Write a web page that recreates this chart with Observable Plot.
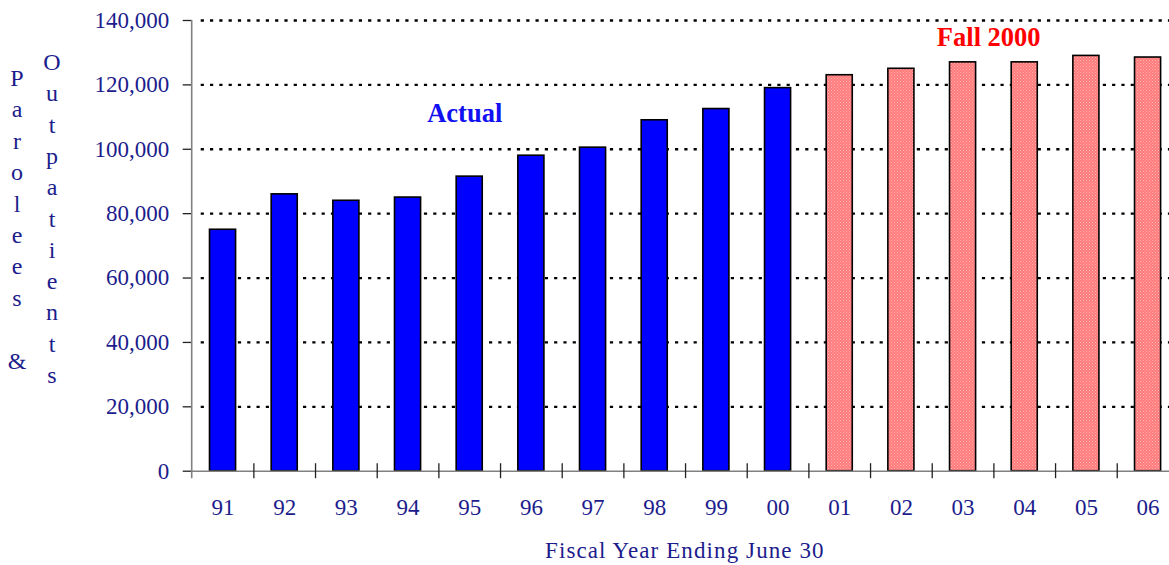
<!DOCTYPE html>
<html>
<head>
<meta charset="utf-8">
<script src="https://cdn.jsdelivr.net/npm/d3@7"></script>
<script src="https://cdn.jsdelivr.net/npm/@observablehq/plot@0.6"></script>
<style>
  html, body { margin: 0; padding: 0; background: #fff; }
  #chart { position: relative; width: 1169px; height: 565px; overflow: hidden; }
  .vlabel { position: absolute; top: 0; font-family: "Liberation Serif", "Times New Roman", serif; font-size: 24px; color: #1c1c8c; }
  .vlabel span { position: absolute; left: 0; transform: translate(-50%, -50%); }
</style>
</head>
<body>
<div id="chart"></div>
<script>
const years = ["91","92","93","94","95","96","97","98","99","00","01","02","03","04","05","06"];
const values = [75000, 86000, 84000, 85000, 91500, 98000, 100500, 109000, 112500, 119000, 123000, 125000, 127000, 127000, 129000, 128500];
const kinds = ["Actual","Actual","Actual","Actual","Actual","Actual","Actual","Actual","Actual","Actual","Fall 2000","Fall 2000","Fall 2000","Fall 2000","Fall 2000","Fall 2000"];
const yTicks = [0, 20000, 40000, 60000, 80000, 100000, 120000, 140000];
const gridTicks = [20000, 40000, 60000, 80000, 100000, 120000, 140000];
const xTitle = "Fiscal Year Ending June 30";
const yTitle1 = "Parolees &";
const yTitle2 = "Outpatients";
const noteActual = {text: "Actual", x: "95", y: 111000};
const noteFall = {text: "Fall 2000", x: "04", y: 134700};

const data = years.map((y, i) => ({year: y, value: values[i], kind: kinds[i]}));

const X0 = 191.7, X1 = 1178.4;
const step = (X1 - X0) / years.length;
const font = '"Liberation Serif", "Times New Roman", serif';
const navy = "#1c1c8c";

const plot = Plot.plot({
  width: 1169,
  height: 565,
  marginLeft: X0,
  marginRight: 0,
  marginTop: 20,
  marginBottom: 94.3,
  style: {fontFamily: font, background: "#fff"},
  x: {domain: years, range: [X0, X1], padding: 0, round: false},
  y: {domain: [0, 140000]},
  marks: [
    Plot.ruleY(gridTicks, {stroke: "#000", strokeWidth: 2.3, strokeDasharray: "3.2,6.1", insetLeft: 9}),
    Plot.barY(data, {
      x: "year", y: "value",
      fill: d => d.kind === "Actual" ? "#0000ff" : "url(#pinkpat)",
      stroke: "#000", strokeWidth: 1.6,
      insetLeft: 17.8, insetRight: 17.8
    }),
    Plot.ruleY([0], {stroke: "#808080", strokeWidth: 1.6}),
    Plot.ruleX(years.slice(1), {x: d => d, y1: 0, y2: 0, insetTop: -7.5, insetBottom: -7.5, dx: -step / 2, stroke: "#222", strokeWidth: 1.3}),
    Plot.axisY({ticks: yTicks, tickFormat: d3.format(","), tickSize: 9, tickPadding: 14, fontSize: 23, color: navy, stroke: "#222", strokeWidth: 1.3}),
    Plot.axisX({tickSize: 0, tickPadding: 27, fontSize: 23, color: navy, label: null}),
    Plot.text([noteActual], {x: "x", y: "y", text: "text", fill: "#1010f0", dx: -5, fontSize: 26.5, fontWeight: "bold", fontFamily: font}),
    Plot.text([noteFall], {x: "x", y: "y", text: "text", fill: "#ff0000", dx: -36, fontSize: 26.5, fontWeight: "bold", fontFamily: font}),
    Plot.text([xTitle], {frameAnchor: "bottom", dy: 87, dx: 4, fontSize: 23, fill: navy, fontFamily: font})
  ]
});

const svg = d3.select(plot);
const defs = svg.insert("defs", ":first-child");
const pat = defs.append("pattern").attr("id", "pinkpat").attr("patternUnits", "userSpaceOnUse").attr("width", 3).attr("height", 3);
pat.append("rect").attr("width", 3).attr("height", 3).attr("fill", "#ff7a7a");
pat.append("rect").attr("x", 0).attr("y", 0).attr("width", 1).attr("height", 1).attr("fill", "#ffb4b4");
pat.append("rect").attr("x", 1.5).attr("y", 1.5).attr("width", 1).attr("height", 1).attr("fill", "#ffb4b4");
svg.append("line").attr("x1", X0).attr("x2", X0).attr("y1", 20).attr("y2", 478.3).attr("stroke", "#808080").attr("stroke-width", 1.6);
svg.selectAll("text").filter(function() { return this.textContent === xTitle; })
  .style("letter-spacing", "1.1px");

document.getElementById("chart").appendChild(plot);

function vstack(str, x, y0, gap) {
  const div = document.createElement("div");
  div.className = "vlabel";
  div.style.left = x + "px";
  [...str].forEach((ch, i) => {
    const s = document.createElement("span");
    s.textContent = ch === " " ? "\u00a0" : ch;
    s.style.top = (y0 + i * gap) + "px";
    div.appendChild(s);
  });
  document.getElementById("chart").appendChild(div);
}
vstack(yTitle1, 17, 78, 31.4);
vstack(yTitle2, 52, 62, 31.3);
</script>
</body>
</html>
